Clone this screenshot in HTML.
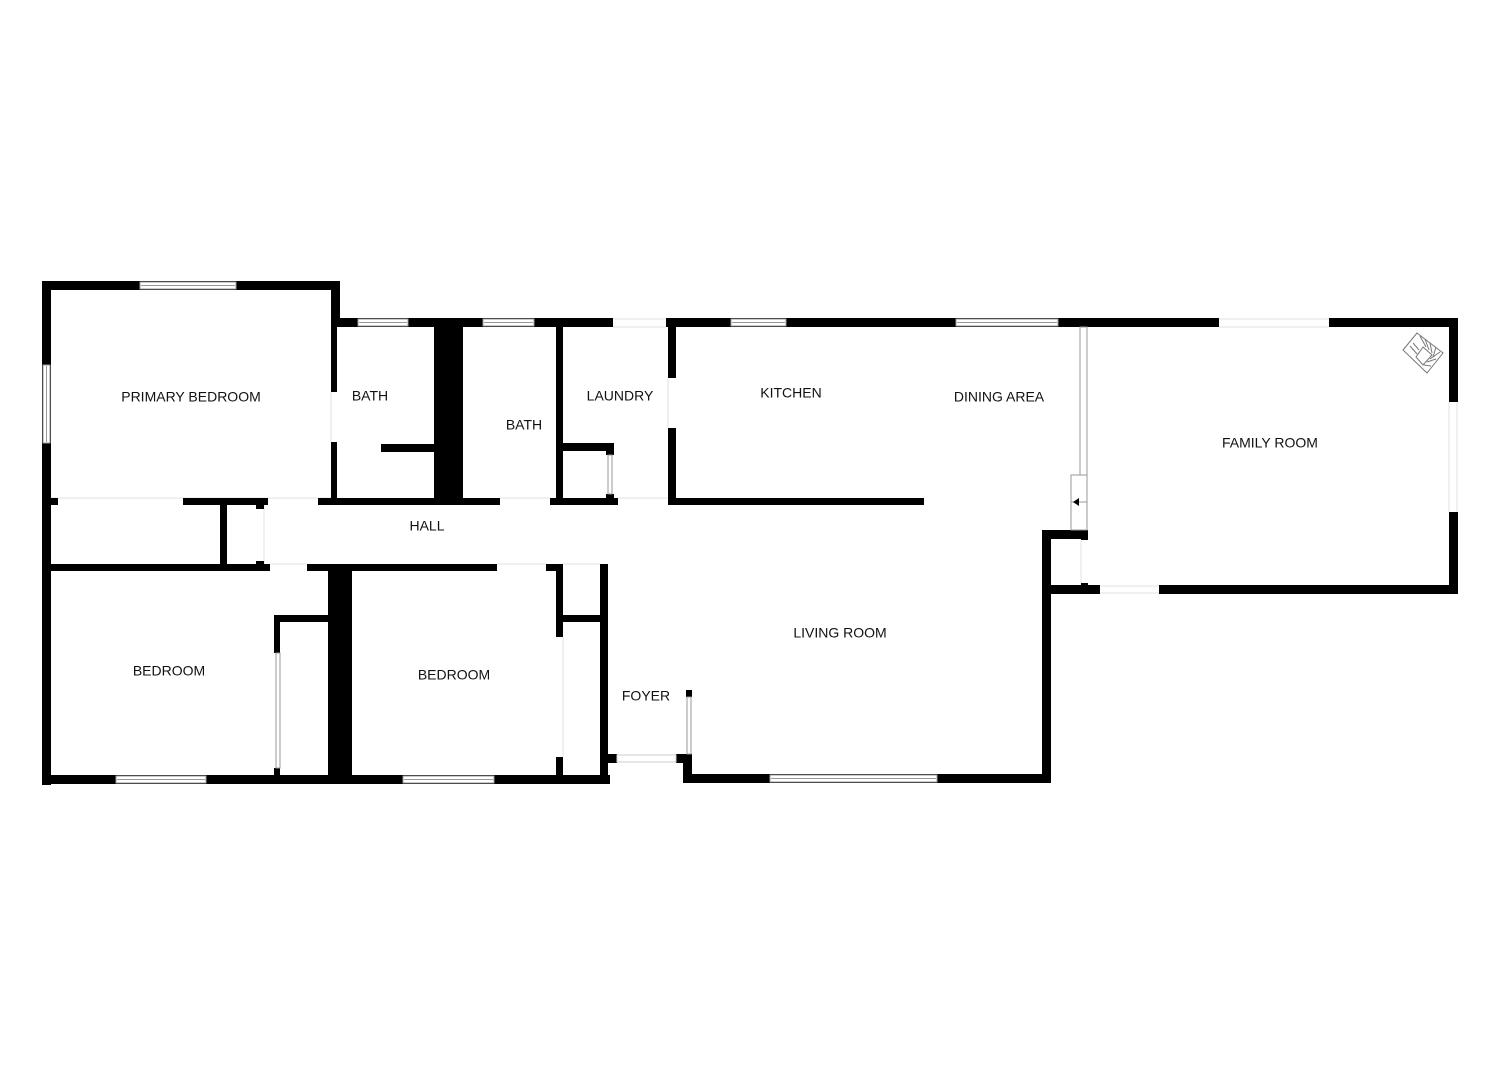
<!DOCTYPE html>
<html><head><meta charset="utf-8"><style>
html,body{margin:0;padding:0;background:#fff;}
svg{display:block;}
text{font-family:"Liberation Sans",Arial,sans-serif;font-size:14px;fill:#111;text-anchor:middle;dominant-baseline:middle;}
</style></head><body>
<svg width="1500" height="1065" viewBox="0 0 1500 1065" xmlns="http://www.w3.org/2000/svg">
<!-- faint door opening lines -->
<g stroke="#e2e2e2" stroke-width="1">
<line x1="613" y1="319" x2="666" y2="319"/><line x1="613" y1="327" x2="666" y2="327"/>
<line x1="1219" y1="319" x2="1329" y2="319"/><line x1="1219" y1="327" x2="1329" y2="327"/>
<line x1="1449" y1="402" x2="1449" y2="512"/><line x1="1457" y1="402" x2="1457" y2="512"/>
<line x1="1100" y1="586" x2="1159" y2="586"/><line x1="1100" y1="593" x2="1159" y2="593"/>
<line x1="51" y1="498" x2="331" y2="498"/>
<line x1="264" y1="505" x2="264" y2="564"/>
<line x1="270" y1="564" x2="307" y2="564"/>
<line x1="500" y1="498" x2="550" y2="498"/>
<line x1="618" y1="498" x2="668" y2="498"/>
<line x1="497" y1="564" x2="546" y2="564"/>
<line x1="563" y1="564" x2="600" y2="564"/>
<line x1="331" y1="392" x2="331" y2="442"/>
<line x1="668" y1="378" x2="668" y2="428"/>
<line x1="563" y1="637" x2="563" y2="757"/>
<line x1="1081" y1="540" x2="1081" y2="583"/>
</g>
<g fill="#000">
<rect x="42" y="281" width="298" height="9"/>
<rect x="42" y="281" width="9" height="504"/>
<rect x="331" y="281" width="9" height="46"/>
<rect x="331" y="318" width="6" height="74"/>
<rect x="331" y="442" width="6" height="62"/>
<rect x="331" y="318" width="282" height="9"/>
<rect x="666" y="318" width="553" height="9"/>
<rect x="1329" y="318" width="129" height="9"/>
<rect x="434" y="327" width="29" height="177"/>
<rect x="381" y="444" width="53" height="8"/>
<rect x="318" y="498" width="182" height="7"/>
<rect x="556" y="327" width="7" height="177"/>
<rect x="563" y="443" width="51" height="8"/>
<rect x="606" y="443" width="8" height="12"/>
<rect x="550" y="498" width="68" height="7"/>
<rect x="606" y="494" width="8" height="6"/>
<rect x="668" y="327" width="8" height="51"/>
<rect x="668" y="428" width="8" height="77"/>
<rect x="668" y="498" width="256" height="7"/>
<rect x="50" y="498" width="8" height="7"/>
<rect x="183" y="498" width="85" height="7"/>
<rect x="220" y="505" width="7" height="60"/>
<rect x="256" y="505" width="8" height="4"/>
<rect x="256" y="561" width="8" height="4"/>
<rect x="51" y="564" width="219" height="7"/>
<rect x="307" y="564" width="190" height="7"/>
<rect x="328" y="564" width="24" height="216"/>
<rect x="274" y="615" width="54" height="7"/>
<rect x="274" y="615" width="6" height="38"/>
<rect x="274" y="768" width="6" height="8"/>
<rect x="546" y="564" width="17" height="7"/>
<rect x="556" y="564" width="7" height="73"/>
<rect x="556" y="757" width="7" height="23"/>
<rect x="563" y="615" width="37" height="7"/>
<rect x="600" y="564" width="8" height="219"/>
<rect x="600" y="754" width="17" height="9"/>
<rect x="42" y="775" width="568" height="9"/>
<rect x="676" y="754" width="16" height="9"/>
<rect x="683" y="754" width="9" height="29"/>
<rect x="683" y="774" width="368" height="9"/>
<rect x="686" y="690" width="6" height="7"/>
<rect x="1042" y="530" width="9" height="253"/>
<rect x="1042" y="530" width="46" height="9"/>
<rect x="1081" y="530" width="7" height="10"/>
<rect x="1042" y="585" width="58" height="9"/>
<rect x="1081" y="583" width="7" height="11"/>
<rect x="1159" y="585" width="299" height="9"/>
<rect x="1449" y="318" width="9" height="84"/>
<rect x="1449" y="512" width="9" height="82"/>
</g>
<g fill="#fff" stroke="#999" stroke-width="1">
<rect x="140" y="282" width="96" height="7"/>
<rect x="43" y="365" width="7" height="78"/>
<rect x="358" y="319" width="50" height="7"/>
<rect x="483" y="319" width="51" height="7"/>
<rect x="731" y="319" width="55" height="7"/>
<rect x="956" y="319" width="102" height="7"/>
<rect x="116" y="776" width="90" height="7"/>
<rect x="403" y="776" width="91" height="7"/>
<rect x="770" y="775" width="167" height="7"/>
<rect x="687" y="697" width="4" height="57"/>
<rect x="1080" y="327" width="7" height="148"/>
<rect x="1071" y="475" width="16" height="55"/>
<rect x="608" y="455" width="4" height="39"/>
<rect x="276" y="653" width="4" height="115"/>
<rect x="617" y="755" width="59" height="7" stroke="#ccc"/>
</g>
<g stroke="#999" stroke-width="1">
<line x1="141" y1="285.5" x2="235" y2="285.5"/>
<line x1="46.5" y1="366" x2="46.5" y2="442"/>
<line x1="359" y1="322.5" x2="407" y2="322.5"/>
<line x1="484" y1="322.5" x2="533" y2="322.5"/>
<line x1="732" y1="322.5" x2="785" y2="322.5"/>
<line x1="957" y1="322.5" x2="1057" y2="322.5"/>
<line x1="117" y1="779.5" x2="205" y2="779.5"/>
<line x1="404" y1="779.5" x2="493" y2="779.5"/>
<line x1="771" y1="778.5" x2="936" y2="778.5"/>
<line x1="1071" y1="502" x2="1087" y2="502"/>
</g>
<polygon points="1073,502 1079,498 1079,506" fill="#000"/>
<!-- fireplace -->
<g fill="none" stroke="#777" stroke-width="1">
<polygon points="1417,333 1443,353 1427,373 1403,350"/>
<polygon points="1423,347 1432,355 1423,365 1416,357"/>
<line x1="1413" y1="343" x2="1419" y2="350"/>
<line x1="1410" y1="346" x2="1417" y2="354"/>
<line x1="1420" y1="336" x2="1426" y2="347"/>
<line x1="1425" y1="339" x2="1429" y2="350"/>
<line x1="1430" y1="343" x2="1432" y2="353"/>
<line x1="1436" y1="347" x2="1433" y2="357"/>
<line x1="1440" y1="352" x2="1430" y2="359"/>
<line x1="1436" y1="359" x2="1427" y2="362"/>
<line x1="1431" y1="366" x2="1424" y2="365"/>
</g>
<text x="191" y="398">PRIMARY BEDROOM</text>
<text x="370" y="397">BATH</text>
<text x="524" y="426">BATH</text>
<text x="620" y="397">LAUNDRY</text>
<text x="791" y="394">KITCHEN</text>
<text x="999" y="398">DINING AREA</text>
<text x="1270" y="444">FAMILY ROOM</text>
<text x="427" y="527">HALL</text>
<text x="169" y="672">BEDROOM</text>
<text x="454" y="676">BEDROOM</text>
<text x="840" y="634">LIVING ROOM</text>
<text x="646" y="697">FOYER</text>
</svg>
</body></html>
